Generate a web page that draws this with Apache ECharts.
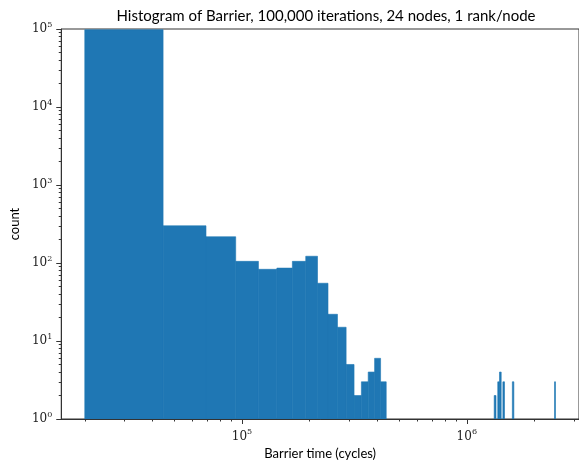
<!DOCTYPE html>
<html>
<head>
<meta charset="utf-8">
<script src="https://cdn.jsdelivr.net/npm/echarts@6/dist/echarts.min.js"></script>
<style>
  html, body { margin: 0; padding: 0; background: #fff; }
  #main { width: 579px; height: 466px; }
</style>
</head>
<body>
<div id="main"></div>
<script>
// histogram bins: 100 equal bins starting at binStart
var binStart = 20000;
var binWidth = 24600;
var binIndex = [0, 1, 2, 3, 4, 5, 6, 7, 8, 9, 10, 11, 12, 13, 14, 15, 16, 53, 55, 56, 58, 64, 99];
var binCount = [98000, 300, 217, 105, 83, 86, 105, 122, 55, 22, 15, 5, 2, 3, 4, 6, 3, 2, 3, 4, 3, 3, 3];

// axis ticks
var xMajorTicks = [1e5, 1e6];
var xMinorTicks = [2e4, 3e4, 4e4, 5e4, 6e4, 7e4, 8e4, 9e4, 2e5, 3e5, 4e5, 5e5, 6e5, 7e5, 8e5, 9e5, 2e6, 3e6];
var yMajorTicks = [1, 10, 100, 1000, 10000, 100000];
var yMinorTicks = [];
for (var k = 0; k < 5; k++) {
  for (var m = 2; m <= 9; m++) yMinorTicks.push(m * Math.pow(10, k));
}

var data = [];
for (var i = 0; i < binIndex.length; i++) {
  var lo = binStart + binIndex[i] * binWidth;
  data.push([lo, lo + binWidth, binCount[i]]);
}

var AXIS_COLOR = '#333';
var BAR_COLOR = '#1f77b4';
var X_MIN = 15720, X_MAX = 3155000;

function powLabel(v) {
  var e = Math.round(Math.log10(v));
  return '{b|10}{s|' + e + '}';
}
var labelRich = {
  b: { fontFamily: 'DejaVu Serif', fontSize: 12, color: '#222' },
  s: { fontFamily: 'DejaVu Serif', fontSize: 8, color: '#222', padding: [0, 0, 9, 0] }
};

var chart = echarts.init(document.getElementById('main'));
chart.setOption({
  animation: false,
  title: {
    text: 'Histogram of Barrier, 100,000 iterations, 24 nodes, 1 rank/node',
    left: 321, top: 4, textAlign: 'center',
    textStyle: { fontFamily: 'Lato', fontSize: 15, fontWeight: 'normal', color: '#000' }
  },
  grid: {
    left: 58, right: -3, top: 29, bottom: 47,
    show: true, borderColor: AXIS_COLOR, borderWidth: 1, backgroundColor: 'transparent'
  },
  xAxis: [{
    type: 'log', logBase: 10, min: X_MIN, max: X_MAX, position: 'bottom', z: 5,
    name: 'Barrier time (cycles)', nameLocation: 'middle', nameGap: 25,
    nameTextStyle: { fontFamily: 'Lato', fontSize: 13, color: '#000' },
    axisLine: { show: true, lineStyle: { color: AXIS_COLOR, width: 1 } },
    axisTick: { show: true, customValues: xMajorTicks, length: 5, lineStyle: { color: AXIS_COLOR } },
    axisLabel: { show: true, customValues: xMajorTicks, formatter: powLabel, rich: labelRich, margin: 9 },
    splitLine: { show: false }, minorTick: { show: false }
  }, {
    type: 'log', logBase: 10, min: X_MIN, max: X_MAX, position: 'bottom', z: 5,
    axisLine: { show: false },
    axisTick: { show: true, customValues: xMinorTicks, length: 2.5, lineStyle: { color: AXIS_COLOR } },
    axisLabel: { show: false },
    splitLine: { show: false }
  }],
  yAxis: [{
    type: 'log', logBase: 10, min: 1, max: 100000, position: 'left', z: 5,
    name: 'count', nameLocation: 'middle', nameGap: 35,
    nameTextStyle: { fontFamily: 'Lato', fontSize: 13, color: '#000' },
    axisLine: { show: true, lineStyle: { color: AXIS_COLOR, width: 1 } },
    axisTick: { show: true, customValues: yMajorTicks, length: 5, lineStyle: { color: AXIS_COLOR } },
    axisLabel: { show: true, customValues: yMajorTicks, formatter: powLabel, rich: labelRich, margin: 9 },
    splitLine: { show: false }
  }, {
    type: 'log', logBase: 10, min: 1, max: 100000, position: 'left', z: 5,
    axisLine: { show: false },
    axisTick: { show: true, customValues: yMinorTicks, length: 2.5, lineStyle: { color: AXIS_COLOR } },
    axisLabel: { show: false },
    splitLine: { show: false }
  }],
  series: [{
    type: 'custom',
    xAxisIndex: 0, yAxisIndex: 0,
    encode: { x: [0, 1], y: 2 },
    data: data,
    renderItem: function (params, api) {
      var p0 = api.coord([api.value(0), api.value(2)]);
      var p1 = api.coord([api.value(1), 1]);
      var w = Math.max(p1[0] - p0[0], 0.9);
      return {
        type: 'rect',
        shape: { x: p0[0], y: p0[1], width: w, height: p1[1] - p0[1] },
        // thin stroke in the fill colour hides seams between neighbouring bins
        style: { fill: BAR_COLOR, stroke: BAR_COLOR, lineWidth: 0.6 }
      };
    }
  }]
});
</script>
</body>
</html>
